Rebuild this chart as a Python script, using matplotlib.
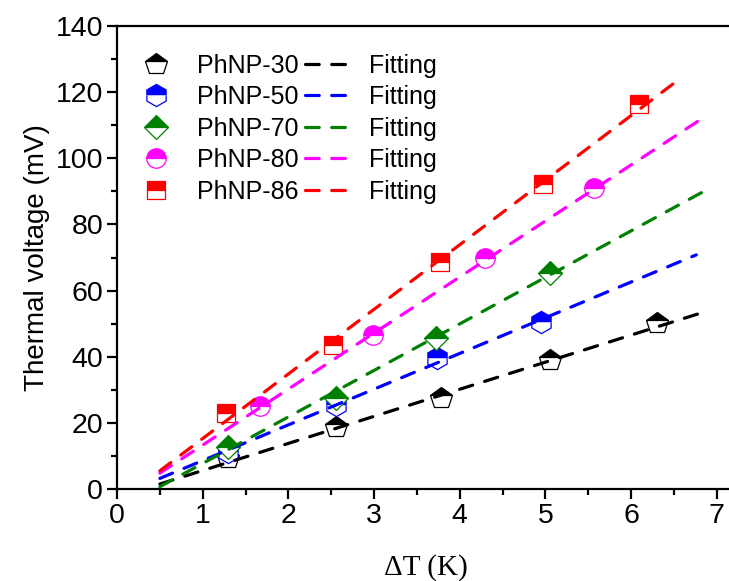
import matplotlib
matplotlib.use("Agg")
import matplotlib.pyplot as plt
from matplotlib.ticker import MultipleLocator

# measured thermal voltage vs temperature difference
labels = ["PhNP-30", "PhNP-50", "PhNP-70", "PhNP-80", "PhNP-86"]
colors = ["black", "blue", "green", "magenta", "red"]
markers = ["p", "h", "D", "o", "s"]
msizes = [16, 16, 12, 14, 13]

dT_30 = [1.30, 2.56, 3.78, 5.05, 6.30]
V_30 = [9.3, 18.8, 27.4, 39.0, 50.3]
dT_50 = [1.30, 2.56, 3.74, 4.95]
V_50 = [11.3, 25.4, 39.5, 50.6]
dT_70 = [1.30, 2.56, 3.72, 5.05]
V_70 = [12.8, 27.4, 45.6, 65.4]
dT_80 = [1.67, 2.99, 4.29, 5.57]
V_80 = [25.1, 46.6, 69.8, 90.9]
dT_86 = [1.27, 2.52, 3.77, 4.97, 6.09]
V_86 = [22.9, 43.5, 68.5, 92.2, 116.4]

# linear fit end points
fit_x = [[0.5, 6.80], [0.5, 6.76], [0.5, 6.82], [0.5, 6.82], [0.5, 6.51]]
fit_y = [[1.5, 53.1], [3.2, 70.8], [0.7, 89.6], [4.8, 111.9], [5.5, 122.9]]

xs = [dT_30, dT_50, dT_70, dT_80, dT_86]
ys = [V_30, V_50, V_70, V_80, V_86]

fig = plt.figure(figsize=(7.29, 5.81), dpi=100)
ax = fig.add_axes([117 / 729, 92 / 581, 617 / 729, 463 / 581])

sans = "Liberation Sans"
pt_handles = []
ln_handles = []
for i in range(len(labels)):
    h, = ax.plot(xs[i], ys[i], linestyle="none", marker=markers[i],
                 markersize=msizes[i], fillstyle="top",
                 markerfacecolor=colors[i], markerfacecoloralt="white",
                 markeredgecolor=colors[i], markeredgewidth=0.9,
                 label=labels[i], zorder=2)
    pt_handles.append(h)
for i in range(len(labels)):
    l, = ax.plot(fit_x[i], fit_y[i], color=colors[i], linewidth=2.3,
                 dashes=(4.3, 3.9), dash_capstyle="round",
                 label="Fitting", zorder=3)
    ln_handles.append(l)

ax.set_xlim(0, 7.2)
ax.set_ylim(0, 140)
ax.xaxis.set_major_locator(MultipleLocator(1))
ax.xaxis.set_minor_locator(MultipleLocator(0.5))
ax.yaxis.set_major_locator(MultipleLocator(20))
ax.yaxis.set_minor_locator(MultipleLocator(10))

ax.spines["right"].set_visible(False)
for s in ["left", "bottom", "top"]:
    ax.spines[s].set_linewidth(1.6)
ax.tick_params(which="major", direction="out", length=7, width=1.6,
               labelsize=20.5, pad=3, top=False, right=False)
ax.tick_params(which="minor", direction="out", length=4, width=1.6,
               top=False, right=False)
for t in ax.get_xticklabels() + ax.get_yticklabels():
    t.set_fontfamily(sans)

ax.set_xlabel("ΔT (K)", fontfamily="Liberation Serif", fontsize=21, labelpad=18)
ax.set_ylabel("Thermal voltage (mV)", fontfamily=sans, fontsize=20, labelpad=4)

leg = ax.legend(pt_handles + ln_handles, labels + ["Fitting"] * 5, ncol=2,
                loc="upper left", bbox_to_anchor=(0.01, 0.962), frameon=False,
                prop={"family": sans, "size": 18}, handlelength=1.85,
                handletextpad=0.7, columnspacing=0.25, labelspacing=0.3,
                borderaxespad=0.0)

fig.savefig("out.png", dpi=100)
